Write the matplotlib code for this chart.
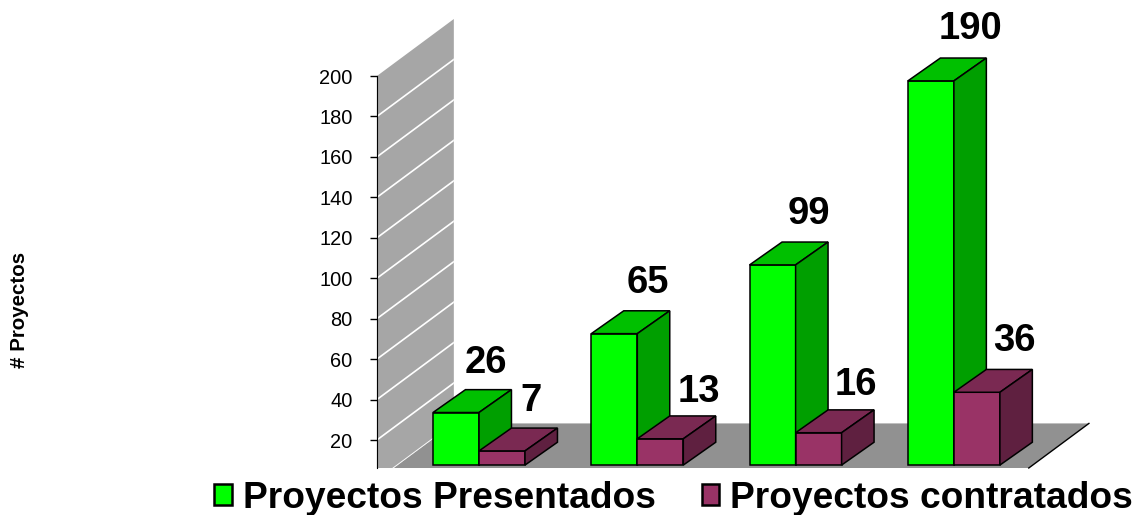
import matplotlib
matplotlib.use("Agg")
import matplotlib.pyplot as plt
from matplotlib.patches import Polygon, Patch

plt.rcParams['font.family'] = ['Liberation Sans', 'DejaVu Sans']

# data
presentados = [26, 65, 99, 190]
contratados = [7, 13, 16, 36]
y_ticks = [20, 40, 60, 80, 100, 120, 140, 160, 180, 200]
grid_levels = [0, 20, 40, 60, 80, 100, 120, 140, 160, 180]
series_names = ["Proyectos Presentados", "Proyectos contratados"]
y_title = "# Proyectos"

# one x unit is the distance between two groups
BAR_W = 0.2906
DEPTH_X = 0.205
DEPTH_Y = 11.3
BASE = 7.6          # bars start a little above the floor edge
WALL_X = -0.645     # axis position
WALL_DX = 0.486
WALL_DY = 28.2
CLIP_Y = 6.15
FLOOR_R = 3.853

GREEN = ("#00ff00", "#00c000", "#009f00")
PURPLE = ("#993366", "#7a2952", "#5f2040")


def bar3d(ax, x, value, colors):
    y0 = BASE
    y1 = BASE + value
    x1 = x + BAR_W
    # front, top, side
    ax.add_patch(Polygon([(x, y0), (x1, y0), (x1, y1), (x, y1)], fc=colors[0], ec="black", lw=1.1, zorder=3))
    ax.add_patch(Polygon([(x, y1), (x1, y1), (x1 + DEPTH_X, y1 + DEPTH_Y), (x + DEPTH_X, y1 + DEPTH_Y)],
                         fc=colors[1], ec="black", lw=1.1, zorder=3))
    ax.add_patch(Polygon([(x1, y0), (x1 + DEPTH_X, y0 + DEPTH_Y), (x1 + DEPTH_X, y1 + DEPTH_Y), (x1, y1)],
                         fc=colors[2], ec="black", lw=1.1, zorder=3))


fig = plt.figure(figsize=(11.38, 5.15), dpi=100)
ax = fig.add_axes([0, 0, 1, 1])
ax.set_xlim(-3.026, 4.163)
ax.set_ylim(-17.09, 237.6)
ax.patch.set_alpha(0)

# back wall
floor_front_l = WALL_X + WALL_DX * CLIP_Y / WALL_DY
floor_front_r = FLOOR_R - WALL_DX * (1 - CLIP_Y / WALL_DY)
wall = Polygon([(WALL_X, CLIP_Y), (WALL_X, 200), (WALL_X + WALL_DX, 200 + WALL_DY),
                (WALL_X + WALL_DX, WALL_DY), (floor_front_l, CLIP_Y)],
               fc="#a6a6a6", ec="none", zorder=1)
ax.add_patch(wall)
for level in grid_levels:
    line, = ax.plot([WALL_X, WALL_X + WALL_DX], [level, level + WALL_DY], color="white", lw=1.2, zorder=1.5)
    line.set_clip_path(wall)

# floor
ax.add_patch(Polygon([(WALL_X + WALL_DX, WALL_DY), (FLOOR_R, WALL_DY), (floor_front_r, CLIP_Y), (floor_front_l, CLIP_Y)],
                     fc="#919191", ec="none", zorder=1))
ax.plot([FLOOR_R, floor_front_r], [WALL_DY, CLIP_Y], color="black", lw=1, zorder=1.6)

# bars and their labels
dx_green = [21.5, 24, 26, 28.5]
dx_purple = [21, 28, 27, 27]
dy_green = [35.4, 36.7, 36.7, 37]
dy_purple = [36, 33.4, 34.7, 36.7]
for i in range(len(presentados)):
    bar3d(ax, i - BAR_W, presentados[i], GREEN)
    bar3d(ax, i, contratados[i], PURPLE)
    ax.annotate(str(presentados[i]), (i - BAR_W / 2, BASE + presentados[i]), xytext=(dx_green[i], dy_green[i]),
                textcoords="offset points", ha="center", va="center", fontsize=27.5, fontweight="bold", zorder=5)
    ax.annotate(str(contratados[i]), (i + BAR_W / 2, BASE + contratados[i]), xytext=(dx_purple[i], dy_purple[i]),
                textcoords="offset points", ha="center", va="center", fontsize=27.5, fontweight="bold", zorder=5)

# axis
for name in ["top", "right", "bottom"]:
    ax.spines[name].set_visible(False)
ax.spines["left"].set_position(("data", WALL_X))
ax.spines["left"].set_bounds(CLIP_Y, 200)
ax.spines["left"].set_zorder(4)
ax.set_xticks([])
ax.set_yticks(y_ticks)
ax.tick_params(axis="y", length=5, width=1, pad=12.5, labelsize=14.4, colors="black")

fig.text(0.0175, 0.398, y_title, rotation=90, ha="center", va="center", fontsize=14.8, fontweight="bold")

handles = [Patch(fc=GREEN[0], ec="black", lw=1.8), Patch(fc=PURPLE[0], ec="black", lw=1.8)]
fig.legend(handles, series_names, loc="lower left", bbox_to_anchor=(0.1817, -0.0155), ncol=2, frameon=False,
           prop={"size": 26.7, "weight": "bold"}, handlelength=0.48, handleheight=0.48, handletextpad=0.29,
           columnspacing=1.24, borderpad=0.2, borderaxespad=0)

fig.savefig("out.png", dpi=100)
